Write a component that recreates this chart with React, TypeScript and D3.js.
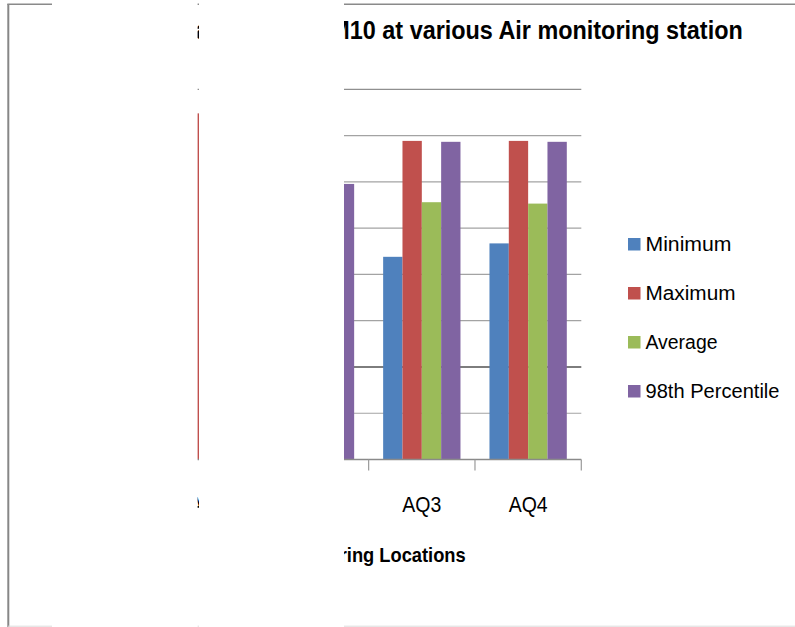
import React from "react";
import * as d3 from "d3";

const categories = ["AQ1", "AQ2", "AQ3", "AQ4"];
const seriesNames = ["Minimum", "Maximum", "Average", "98th Percentile"];
const minimumValues = [80, 76, 87.6, 93.4];
const maximumValues = [149.6, 131, 137.7, 137.7];
const averageValues = [108, 99, 111.2, 110.6];
const percentile98Values = [141, 119.1, 137.3, 137.3];
const yTickValues = [0, 20, 40, 60, 80, 100, 120, 140, 160];
const titleText = "Variation of PM10 at various Air monitoring station";
const xAxisTitle = "Monitoring Locations";
const yAxisTitle = "Concentration (µg/m³)";

const colors = ["#4F81BD", "#C0504D", "#9BBB59", "#8064A2"];
const seriesValues = [minimumValues, maximumValues, averageValues, percentile98Values];
const legendWidths = [86, 90, 72, 134];

const W = 795;
const H = 627;
const plotLeft = 156;
const plotRight = 581.3;
const plotTop = 89.3;
const plotBottom = 459.5;
const FONT = "'Liberation Sans', Arial, sans-serif";

export default function App() {
  const x0 = d3.scaleBand<string>().domain(categories).range([plotLeft, plotRight]).paddingInner(0).paddingOuter(0);
  const x1 = d3
    .scaleBand<string>()
    .domain(seriesNames)
    .range([0, x0.bandwidth()])
    .paddingInner(0)
    .paddingOuter(0.75);
  const y = d3.scaleLinear().domain([0, 160]).range([plotBottom, plotTop]);

  const boundaries = categories.map((c) => x0(c) as number).concat([plotRight]);

  return (
    <svg
      width={W}
      height={H}
      viewBox={`0 0 ${W} ${H}`}
      style={{ position: "absolute", left: 0, top: 0, display: "block", background: "#fff" }}
    >
      <rect x={0} y={0} width={W} height={H} fill="#fff" />
      {/* chart border */}
      <line x1={8.3} x2={8.3} y1={4} y2={H} stroke="#878787" strokeWidth={2} />
      <line x1={7.3} x2={W} y1={4.2} y2={4.2} stroke="#8a8a8a" strokeWidth={1.6} />
      <line x1={8} x2={W} y1={626.2} y2={626.2} stroke="#dcdcdc" strokeWidth={1} />

      {/* title */}
      <g transform="translate(742.7, 39.3) scale(1, 1.07)">
        <text x={0} y={0} textAnchor="end" fontFamily={FONT} fontWeight="bold" fontSize={23.4} fill="#000">
          {titleText}
        </text>
      </g>

      {/* gridlines */}
      {yTickValues
        .filter((v) => v > 0)
        .map((v) => (
          <line
            key={"g" + v}
            x1={plotLeft}
            x2={plotRight}
            y1={y(v)}
            y2={y(v)}
            stroke={v === 40 ? "#7d7d7d" : v === 160 ? "#8f8f8f" : "#a3a3a3"}
            strokeWidth={v === 40 ? 2 : 1.2}
          />
        ))}

      {/* y axis labels */}
      {yTickValues.map((v) => (
        <text
          key={"yl" + v}
          x={plotLeft - 8}
          y={y(v) + 6}
          textAnchor="end"
          fontFamily={FONT}
          fontSize={18}
          fill="#000"
        >
          {v}
        </text>
      ))}
      <text
        transform={`translate(80, ${(plotTop + plotBottom) / 2}) rotate(-90)`}
        textAnchor="middle"
        fontFamily={FONT}
        fontWeight="bold"
        fontSize={18}
      >
        {yAxisTitle}
      </text>

      {/* bars */}
      {categories.map((c, ci) =>
        seriesNames.map((s, si) => {
          const v = seriesValues[si][ci];
          const bx = (x0(c) as number) + (x1(s) as number);
          return (
            <rect
              key={c + s}
              x={bx}
              y={y(v)}
              width={x1.bandwidth()}
              height={plotBottom - y(v)}
              fill={colors[si]}
            />
          );
        })
      )}

      {/* axes */}
      <line x1={plotLeft} x2={plotLeft} y1={plotTop} y2={plotBottom} stroke="#8a8a8a" strokeWidth={1.2} />
      <line x1={plotLeft} x2={plotRight} y1={plotBottom} y2={plotBottom} stroke="#8a8a8a" strokeWidth={1.4} />
      {boundaries.map((bx, i) => (
        <line key={"t" + i} x1={bx} x2={bx} y1={plotBottom} y2={470.5} stroke="#9a9a9a" strokeWidth={1.2} />
      ))}

      {/* category labels */}
      {categories.map((c) => (
        <g
          key={"xl" + c}
          transform={`translate(${(x0(c) as number) + x0.bandwidth() / 2}, 511.6) scale(1, 1.12)`}
        >
          <text x={0} y={0} textAnchor="middle" fontFamily={FONT} fontSize={19.5} fill="#000">
            {c}
          </text>
        </g>
      ))}

      {/* x axis title */}
      <g transform="translate(465.7, 562.3) scale(1, 1.07)">
        <text x={0} y={0} textAnchor="end" fontFamily={FONT} fontWeight="bold" fontSize={18.3} fill="#000">
          {xAxisTitle}
        </text>
      </g>

      {/* legend */}
      {seriesNames.map((s, i) => {
        const base = 250.5 + i * 49;
        return (
          <g key={"lg" + s}>
            <rect x={628} y={base - 12.5} width={12.5} height={12.5} fill={colors[i]} />
            <text
              x={645.5}
              y={base}
              fontFamily={FONT}
              fontSize={20}
              fill="#000"
              textLength={legendWidths[i]}
              lengthAdjust="spacingAndGlyphs"
            >
              {s}
            </text>
          </g>
        );
      })}

      {/* white masked regions of the reference picture */}
      <rect x={52} y={0} width={145.6} height={H} fill="#fff" />
      <rect x={199} y={0} width={145} height={H} fill="#fff" />
    </svg>
  );
}
